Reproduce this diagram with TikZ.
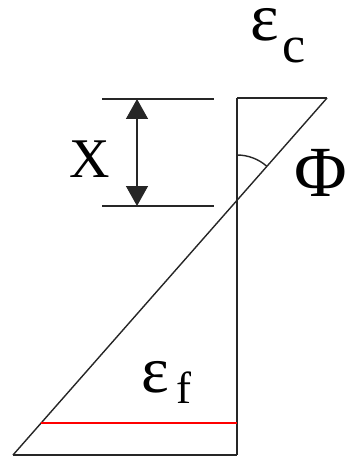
\documentclass[tikz,border=0pt]{standalone}
\usepackage{fontspec}
\setmainfont{Liberation Serif}
\usetikzlibrary{arrows.meta}
\tikzset{
  line/.style={line width=1.4pt, draw=black!85},
  redline/.style={line width=1.3pt, draw=red},
  lbl/.style={inner sep=0pt, anchor=base west, text=black}
}
\begin{document}
\begin{tikzpicture}[x=1pt,y=-1pt]
\useasboundingbox (0,0) rectangle (348,457);
% triangle vertices
\coordinate (TL) at (237,98);
\coordinate (TR) at (327,98);
\coordinate (BL) at (13,455);
\coordinate (BR) at (237,455);
\coordinate (C) at (237,200);
\coordinate (RL) at (41,423);
\coordinate (RR) at (237,423);
% dimension lines
\coordinate (D1a) at (102,99);
\coordinate (D1b) at (214,99);
\coordinate (D2a) at (102,206);
\coordinate (D2b) at (214,206);
\coordinate (A1) at (137,99);
\coordinate (A2) at (137,206);

\draw[line] (TL) -- (BR);
\draw[line] (TL) -- (TR);
\draw[line] (TR) -- (BL);
\draw[line] (BL) -- (BR);
\draw[redline] (RL) -- (RR);
\draw[line] (D1a) -- (D1b);
\draw[line] (D2a) -- (D2b);
\draw[line, {Triangle[length=20pt,width=22pt]}-{Triangle[length=20pt,width=22pt]}] (A1) -- (A2);
\draw[line] (237,155) arc[start angle=-90, end angle=-48.6, radius=45];

\node[lbl, font=\fontsize{56}{60}\selectfont] (x) at (69,177) {X};
\node[lbl, font=\fontsize{72}{76}\selectfont] (phi) at (294,196) {Φ};
\node[lbl, font=\fontsize{68}{72}\selectfont, text height=30pt] (ec) at (250,41) {\smash{ε}};
\node[lbl, font=\fontsize{52}{56}\selectfont] (c) at (282,63) {c};
\node[lbl, font=\fontsize{66}{70}\selectfont] (ef) at (141,392) {ε};
\node[lbl, font=\fontsize{45}{48}\selectfont] (f) at (176,403) {f};
\end{tikzpicture}
\end{document}
